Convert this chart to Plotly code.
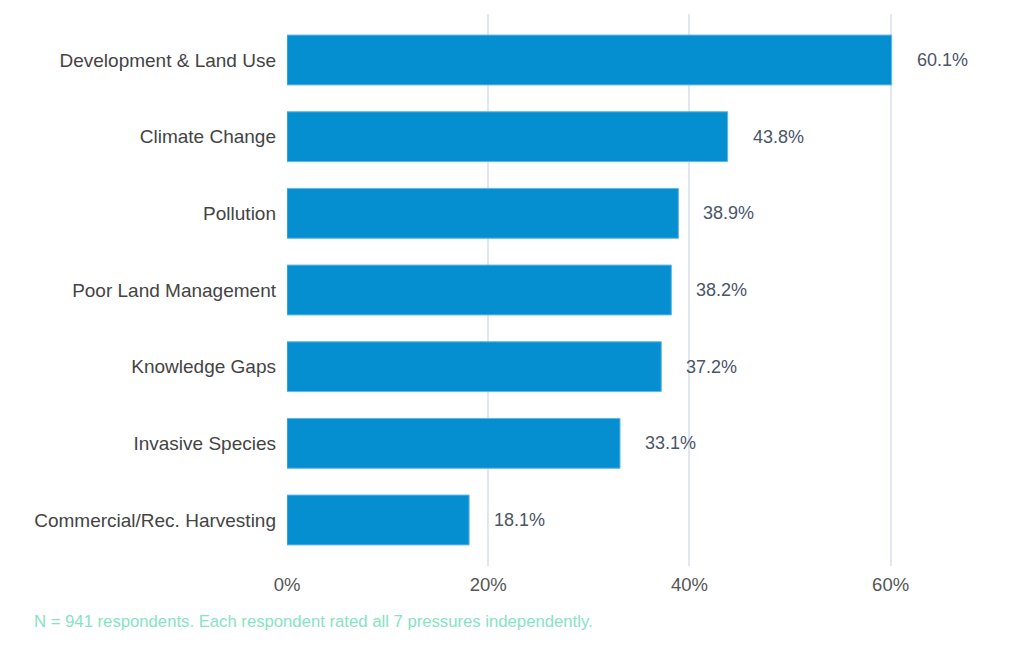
import plotly.graph_objects as go

# ---------- data ----------
pressures = [
    "Development & Land Use",
    "Climate Change",
    "Pollution",
    "Poor Land Management",
    "Knowledge Gaps",
    "Invasive Species",
    "Commercial/Rec. Harvesting",
]
share_pct = [60.1, 43.8, 38.9, 38.2, 37.2, 33.1, 18.1]
x_ticks = [0, 20, 40, 60]
x_tick_labels = ["0%", "20%", "40%", "60%"]
footnote = "N = 941 respondents. Each respondent rated all 7 pressures independently."

FONT = "Liberation Sans, Arial, sans-serif"

fig = go.Figure()
fig.add_trace(go.Bar(
    x=share_pct, y=pressures, orientation="h",
    marker=dict(color="#068fd0", line=dict(color="#5fb6e6", width=1)),
    hoverinfo="skip", showlegend=False,
))

# value labels just right of each bar
for name, v in zip(pressures, share_pct):
    fig.add_annotation(
        x=v, y=name, text=f"{v:.1f}%", showarrow=False,
        xanchor="left", xshift=23,
        font=dict(family=FONT, size=18, color="#4a5568"),
    )

fig.add_annotation(
    text=footnote, showarrow=False, xref="paper", yref="paper",
    x=-0.384, y=-0.1014, xanchor="left", yanchor="middle",
    font=dict(family=FONT, size=16.7, color="#86e4bf"),
)

fig.update_layout(
    width=1024, height=647,
    margin=dict(l=279, r=81, t=6, b=89),
    paper_bgcolor="white", plot_bgcolor="white",
    bargap=0.35,
    font=dict(family=FONT, size=19, color="#444"),
    xaxis=dict(
        range=[0, 66], tickvals=x_ticks, ticktext=x_tick_labels,
        showgrid=True, gridcolor="#e2e6ef", gridwidth=1.5,
        zeroline=False, showline=False,
        tickfont=dict(size=18.5, color="#555"), ticks="", ticklabelstandoff=5,
    ),
    yaxis=dict(
        categoryorder="array", categoryarray=pressures,
        range=[6.6, -0.6], showgrid=False, zeroline=False,
        ticks="", ticklabelstandoff=10,
        tickfont=dict(size=19, color="#444"),
    ),
)

fig.write_html("out.html")
